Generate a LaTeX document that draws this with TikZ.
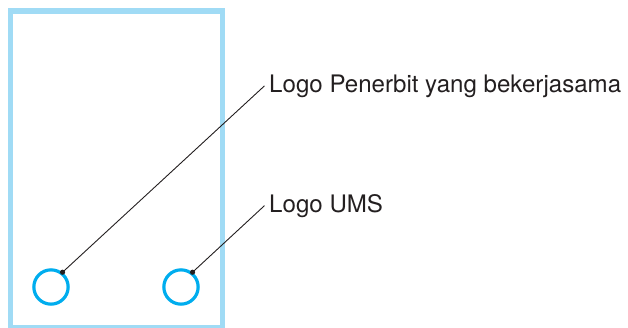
\documentclass[tikz,border=0pt]{standalone}
\usepackage{fontspec}
\setmainfont{TeX Gyre Heros}
\usetikzlibrary{positioning}

\definecolor{frameblue}{RGB}{160,219,245}
\definecolor{logocyan}{RGB}{0,173,238}
\definecolor{leadergray}{RGB}{35,31,32}

\begin{document}
\begin{tikzpicture}[x=1pt, y=-1pt,
            logocircle/.style={circle, draw=logocyan, line width=3.2pt, minimum size=34.3pt, inner sep=0pt},
            labeltext/.style={inner sep=0pt, anchor=base west, text=leadergray, font=\fontsize{24.1}{29}\selectfont},
            leader/.style={draw=leadergray, line width=0.9pt},
        ]
        \useasboundingbox (0,0) rectangle (628,327);

        %Frame
        \draw[frameblue, line width=5.3pt] (10.7,11) rectangle (222.5,328);

        %Nodes
        \node[logocircle]       (logoPartner)       at (51,287)                 {};
        \node[logocircle]       (logoUMS)           [right=92.5pt of logoPartner] {};
        \node[labeltext]        (lblPartner)        at (269,92)                 {Logo Penerbit yang bekerjasama};
        \node[labeltext]        (lblUMS)            at (269,212)                {Logo UMS};
        \coordinate (dotPartner) at (logoPartner.52);
        \coordinate (dotUMS)     at (logoUMS.52);

        %Lines
        \draw[leader] (dotPartner) -- ([xshift=-4.5pt]lblPartner.west);
        \draw[leader] (dotUMS) -- ([xshift=-4.5pt]lblUMS.west);
        \fill[leadergray] (dotPartner) circle (2.6pt);
        \fill[leadergray] (dotUMS) circle (2.6pt);
    \end{tikzpicture}
\end{document}
